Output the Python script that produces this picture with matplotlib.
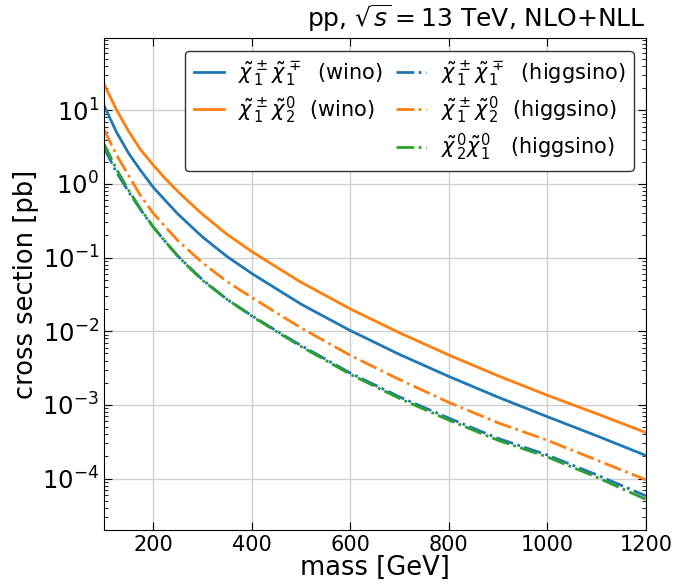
import numpy as np
import matplotlib
matplotlib.use('Agg')
import matplotlib.pyplot as plt
from matplotlib.lines import Line2D

# masses in GeV, cross sections in pb
mass = [100, 125, 150, 175, 200, 225, 250, 275, 300, 350, 400, 450, 500, 600, 700,
        800, 900, 1000, 1100, 1200]

wino_c1c1 = [11.6, 5.1, 2.6, 1.5, 0.90, 0.59, 0.39, 0.272, 0.19, 0.103, 0.0608, 0.0376,
             0.0233, 0.0102, 0.00483, 0.00243, 0.00127, 0.00069, 0.00038, 0.000205]
wino_c1n2 = [22.67, 10.3, 5.18, 2.87, 1.807, 1.17, 0.79, 0.55, 0.387, 0.206, 0.121, 0.0745,
             0.0463, 0.0201, 0.00951, 0.00475, 0.00248, 0.00135, 0.00076, 0.00042]
higgsino_c1c1 = [3.1, 1.45, 0.78, 0.44, 0.26, 0.163, 0.105, 0.072, 0.050, 0.027, 0.0163,
                 0.0101, 0.0064, 0.0027, 0.00128, 0.00066, 0.00035, 0.000208, 0.000112,
                 0.000058]
higgsino_c1n2 = [5.5, 2.5, 1.3, 0.68, 0.40, 0.26, 0.17, 0.12, 0.085, 0.047, 0.0288, 0.0178,
                 0.0111, 0.0047, 0.0022, 0.00108, 0.00057, 0.00033, 0.000178, 0.000096]
higgsino_n2n1 = [3.5, 1.6, 0.82, 0.45, 0.26, 0.163, 0.104, 0.071, 0.049, 0.027, 0.0160,
                 0.0099, 0.0062, 0.0026, 0.00122, 0.00062, 0.00033, 0.000196, 0.000104,
                 0.000052]

plt.rcParams['font.size'] = 15

fig = plt.figure(figsize=(6.8, 5.86), dpi=100)
ax = fig.add_axes([0.153, 0.0956, 0.797, 0.839])

l1, = ax.plot(mass, wino_c1c1, '-', color='C0', lw=2,
              label=r'$\tilde\chi_1^\pm\tilde\chi_1^\mp$  (wino)')
l2, = ax.plot(mass, wino_c1n2, '-', color='C1', lw=2,
              label=r'$\tilde\chi_1^\pm\tilde\chi_2^0$  (wino)')
l3, = ax.plot(mass, higgsino_c1c1, '-.', color='C0', lw=2,
              label=r'$\tilde\chi_1^\pm\tilde\chi_1^\mp$  (higgsino)')
l4, = ax.plot(mass, higgsino_c1n2, '-.', color='C1', lw=2,
              label=r'$\tilde\chi_1^\pm\tilde\chi_2^0$  (higgsino)')
l5, = ax.plot(mass, higgsino_n2n1, '-.', color='C2', lw=2,
              label=r'$\tilde\chi_2^0\tilde\chi_1^0$   (higgsino)')

blank = Line2D([], [], color='none', label=' ')

ax.set_yscale('log')
ax.set_xlim(100, 1200)
ax.set_ylim(2e-5, 95)
ax.set_xticks([200, 400, 600, 800, 1000, 1200])
ax.grid(True, which='major', color='#d0d0d0', lw=1)
ax.tick_params(which='both', direction='in', top=True, right=True)
ax.tick_params(which='major', length=6)
ax.tick_params(which='minor', length=3)
ax.tick_params(axis='x', labelsize=15)
ax.tick_params(axis='y', labelsize=17.5)

ax.set_xlabel('mass [GeV]', fontsize=18.5, labelpad=0)
ax.set_ylabel('cross section [pb]', fontsize=18.5, labelpad=2)
ax.set_title(r'pp, $\sqrt{s} = 13$ TeV, NLO+NLL', loc='right', pad=8, fontsize=18)

leg = ax.legend(handles=[l1, l2, blank, l3, l4, l5], ncol=2, loc='upper right',
                fontsize=15, framealpha=1, edgecolor='#333333', fancybox=True,
                handlelength=1.45, handletextpad=0.7, columnspacing=0.6,
                borderaxespad=0.6, labelspacing=0.3)

fig.savefig('out.png', dpi=100)
